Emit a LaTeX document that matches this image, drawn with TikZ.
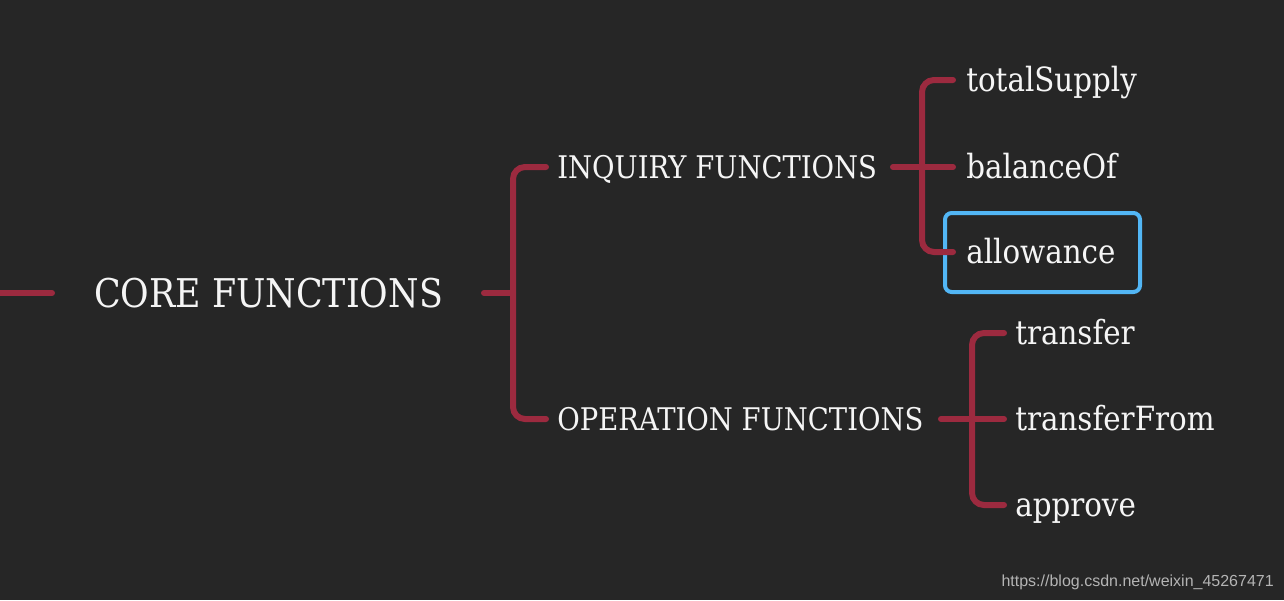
\documentclass[tikz,border=0pt]{standalone}
\usepackage{fontspec}
\setmainfont{DejaVu Serif}[FakeStretch=0.88]
\newfontfamily\wmfont{Liberation Sans}
\definecolor{bg}{HTML}{262626}
\definecolor{linered}{HTML}{9C2A3F}
\definecolor{hlblue}{HTML}{52B6F5}
\definecolor{txt}{HTML}{F5F5F5}
\definecolor{wmgray}{HTML}{B4B4B4}
\begin{document}
\begin{tikzpicture}[x=0.75pt,y=-0.75pt,
  conn/.style={draw=linered, line width=4.5pt, line cap=round, rounded corners=9pt},
  lbl/.style={anchor=base west, inner sep=0pt, text=txt, font=\fontsize{23.4}{28}\selectfont},
  leaflbl/.style={lbl, font=\fontsize{25}{29}\selectfont},
  corelbl/.style={lbl, font=\fontsize{29.7}{34}\selectfont},
  hl/.style={draw=hlblue, line width=3pt, rounded corners=5pt},
  wm/.style={anchor=base east, inner sep=0pt, text=wmgray, font=\wmfont\fontsize{12}{14}\selectfont}]
\fill[bg] (0,0) rectangle (1284,600);
\useasboundingbox (0,0) rectangle (1284,600);

% nodes
\node[corelbl] (core) at (94,307) {CORE FUNCTIONS};
\node[lbl] (inq) at (557,178) {INQUIRY FUNCTIONS};
\node[lbl] (op) at (557,430) {OPERATION FUNCTIONS};
\node[leaflbl] (ts) at (966,91) {totalSupply};
\node[leaflbl] (bo) at (966,178) {balanceOf};
\node[leaflbl] (al) at (966,263) {allowance};
\node[leaflbl] (tr) at (1015,344) {transfer};
\node[leaflbl] (tf) at (1015,430) {transferFrom};
\node[leaflbl] (ap) at (1015,516) {approve};
\node[wm] (url) at (1274,586) {https://blog.csdn.net/weixin\_45267471};

% highlight box
\draw[hl] (945,213) rectangle (1140,292);

% connector points
\coordinate (inL) at (0,293);
\coordinate (inR) at (52,293);
\coordinate (coreOut) at (484,293);
\coordinate (b1) at (513,293);
\coordinate (inqIn) at (546,167);
\coordinate (opIn) at (546,419);
\coordinate (inqOut) at (893,167);
\coordinate (b2) at (922,167);
\coordinate (tsIn) at (953,80);
\coordinate (boIn) at (953,167);
\coordinate (alIn) at (953,252);
\coordinate (opOut) at (941,419);
\coordinate (b3) at (972,419);
\coordinate (trIn) at (1004,333);
\coordinate (tfIn) at (1004,419);
\coordinate (apIn) at (1004,505);

% connectors
\draw[conn] (inL) -- (inR);
\draw[conn] (coreOut) -- (b1);
\draw[conn] (inqIn) -| (b1) |- (opIn);
\draw[conn] (inqOut) -- (boIn);
\draw[conn] (tsIn) -| (b2) |- (alIn);
\draw[conn] (opOut) -- (tfIn);
\draw[conn] (trIn) -| (b3) |- (apIn);
\end{tikzpicture}
\end{document}
